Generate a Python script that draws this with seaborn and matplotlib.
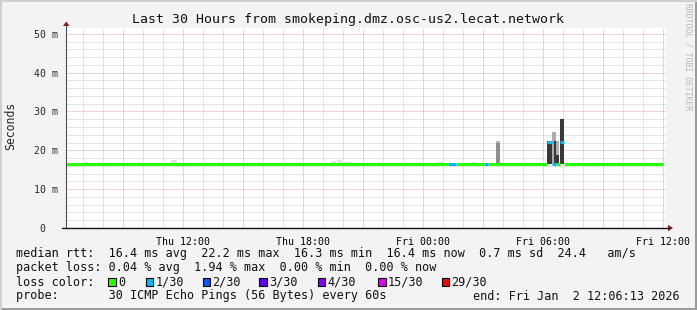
import numpy as np
import pandas as pd
import matplotlib
matplotlib.use("Agg")
import matplotlib.pyplot as plt
import seaborn as sns
from matplotlib.patches import Rectangle, Polygon
from matplotlib.lines import Line2D

# ---------------- data ----------------
title = "Last 30 Hours from smokeping.dmz.osc-us2.lecat.network"
# time axis: hours since Thu 00:00 (window Thu 06:06:13 .. Fri 12:06:13)
x_start = 6.1036
x_end = 36.1036
x_label_hours = [12, 18, 24, 30, 36]
x_label_text = ["Thu 12:00", "Thu 18:00", "Fri 00:00", "Fri 06:00", "Fri 12:00"]
y_tick_values = [0, 10, 20, 30, 40, 50]
y_tick_text = ["0  ", "10 m", "20 m", "30 m", "40 m", "50 m"]
y_max = 51.5

# median rtt (ms), step segments: start time, value, loss (pings lost of 30)
median_t = [6.10, 25.23, 25.64, 27.03, 27.23, 30.20, 30.42, 30.62, 30.82, 31.03, 36.00]
median_v = [16.4, 16.4, 16.4, 16.4, 16.4, 22.2, 16.4, 16.4, 22.2, 16.4]
median_loss = [0, 1, 0, 1, 0, 1, 1, 0, 1, 0]

# smoke (spread of pings): start, end, low ms, high ms, shade
smoke_t0 = [27.62, 27.62, 30.20, 30.42, 30.53, 30.62, 30.83]
smoke_t1 = [27.83, 27.83, 30.42, 30.62, 30.80, 30.78, 31.03]
smoke_lo = [16.4, 21.8, 16.4, 16.4, 16.4, 18.9, 16.4]
smoke_hi = [22.4, 22.4, 22.4, 24.8, 22.4, 22.3, 28.1]
smoke_shade = ["#8e8e8e", "#b8b8b8", "#383838", "#ababab", "#383838", "#b0b0b0", "#383838"]

# faint smoke just above the median line: start, end, top ms
faint_t0 = [7.00, 9.67, 10.17, 11.40, 12.20, 13.58, 14.25, 15.17, 15.58, 18.83, 19.40, 19.67, 20.00,
            21.67, 22.25, 22.67, 24.08, 24.67, 25.67, 26.42, 26.67, 31.67, 33.00, 34.00, 35.17]
faint_t1 = [7.25, 10.00, 10.42, 11.70, 12.80, 13.83, 14.67, 15.42, 15.83, 19.25, 19.62, 19.92, 20.42,
            22.00, 22.42, 22.83, 24.42, 25.00, 26.00, 26.67, 27.00, 31.83, 33.17, 34.42, 35.42]
faint_top = [17.1, 16.8, 16.8, 17.4, 16.8, 16.8, 16.8, 16.8, 16.8, 16.8, 17.3, 17.4, 17.1,
             16.8, 16.8, 16.8, 16.8, 17.0, 16.8, 17.0, 16.8, 16.8, 16.8, 16.8, 16.8]

loss_levels = [0, 1, 2, 3, 4, 15, 29]
loss_text = ["0", "1/30", "2/30", "3/30", "4/30", "15/30", "29/30"]
loss_colors = ["#26ff00", "#00b8ff", "#0059ff", "#5e00ff", "#7e00ff", "#dd00ff", "#ff0000"]

legend_rows = [
    "median rtt:  16.4 ms avg  22.2 ms max  16.3 ms min  16.4 ms now  0.7 ms sd  24.4   am/s",
    "packet loss: 0.04 % avg  1.94 % max  0.00 % min  0.00 % now",
    "loss color:",
    "probe:       30 ICMP Echo Pings (56 Bytes) every 60s",
]
end_text = "end: Fri Jan  2 12:06:13 2026"
y_label = "Seconds"
watermark = "RRDTOOL / TOBI OETIKER"

# ---------------- figure ----------------
W, H = 697, 310
sns.set_style("white")
plt.rcParams["font.family"] = ["DejaVu Sans Mono", "DejaVu Sans"]

fig = plt.figure(figsize=(W / 100, H / 100), dpi=100, facecolor="#f3f3f3")
ax = fig.add_axes([65.5 / W, 82 / H, 600 / W, 200 / H])
ax.set_facecolor("white")
ax.set_xlim(x_start, x_end)
ax.set_ylim(0, y_max)

# grids
major_x = np.arange(9, 37, 3)
minor_x = np.arange(7, 37, 1)
ax.set_xticks(major_x)
ax.set_xticks(minor_x, minor=True)
ax.set_xticklabels([""] * len(major_x))
ax.set_yticks(y_tick_values)
ax.set_yticks(np.arange(2, 52, 2), minor=True)
ax.set_yticklabels(y_tick_text)
ax.set_axisbelow(True)
grid_red = "#e6a4a4"
grid_gray = "#cdcdcd"
ax.grid(which="major", color=grid_red, linestyle=(0, (1, 1)), linewidth=0.72)
ax.grid(which="minor", color=grid_gray, linestyle=(0, (1, 1)), linewidth=0.72)
ax.tick_params(axis="x", which="major", length=1.6, color=grid_red, width=0.72, pad=2)
ax.tick_params(axis="x", which="minor", length=1.6, color=grid_gray, width=0.72)
ax.tick_params(axis="y", which="major", length=3, color="#555555", width=0.72, pad=2.2, labelsize=7.1)
ax.tick_params(axis="y", which="minor", length=0)
for s in ax.spines.values():
    s.set_visible(False)

# x labels (every 6 h)
for h, lab in zip(x_label_hours, x_label_text):
    ax.text(h, -0.045, lab, transform=ax.get_xaxis_transform(), ha="center", va="top",
            fontsize=7.1, color="black")

# faint smoke
ax.bar(faint_t0, np.array(faint_top) - 16.0, width=np.array(faint_t1) - np.array(faint_t0),
       bottom=16.0, align="edge", color="#e2e2e2", linewidth=0, zorder=2)
# smoke
ax.bar(smoke_t0, np.array(smoke_hi) - np.array(smoke_lo),
       width=np.array(smoke_t1) - np.array(smoke_t0), bottom=smoke_lo,
       align="edge", color=smoke_shade, linewidth=0, zorder=3)

# median line through seaborn
rows = []
for i, (v, l) in enumerate(zip(median_v, median_loss)):
    rows.append({"t": median_t[i], "v": v, "seg": i, "loss": l})
    rows.append({"t": median_t[i + 1], "v": v, "seg": i, "loss": l})
df = pd.DataFrame(rows)
pal = dict(zip(loss_levels, loss_colors))
sns.lineplot(data=df, x="t", y="v", units="seg", estimator=None, hue="loss",
             palette={k: pal[k] for k in sorted(df["loss"].unique())},
             linewidth=2.2, legend=False, ax=ax, zorder=4, solid_capstyle="butt")
ax.set_xlabel("")
ax.set_ylabel("")

# axes lines and arrows (pixel coords)
def px(x, y):
    return (x / W, 1 - y / H)

fig.add_artist(Line2D([px(66, 0)[0]] * 2, [px(0, 228)[1], px(0, 25)[1]], color="#4a4a4a", lw=0.8))
fig.add_artist(Line2D([px(62, 0)[0], px(669, 0)[0]], [px(0, 228)[1]] * 2, color="#111111", lw=1.0))
fig.add_artist(Polygon([px(63, 26), px(69.5, 26), px(66.25, 21.5)], closed=True, color="#8b1a1a", lw=0))
fig.add_artist(Polygon([px(668, 224.8), px(668, 231.2), px(673, 228)], closed=True, color="#8b1a1a", lw=0))

# titles / labels
fig.text(W / 2 / W, px(0, 19)[1], title, ha="center", va="center", fontsize=9.5, color="#111111")
fig.text(*px(11, 126), y_label, rotation=90, ha="center", va="center", fontsize=8.3)
fig.text(*px(688, 57), watermark, rotation=270, ha="center", va="center", fontsize=5.8,
         color="#b8b8b8")

# legend
row_y = [254, 268, 282, 296]
for txt, yy in zip(legend_rows, row_y):
    fig.text(*px(16, yy), txt, ha="left", va="center", fontsize=8.5, color="#111111")
box_x = [108.3, 145.7, 202.7, 259.3, 317.7, 378.3, 441.7]
for bx, c, lab in zip(box_x, loss_colors, loss_text):
    fig.add_artist(Rectangle(px(bx, 286), 7.6 / W, 7.6 / H, facecolor=c, edgecolor="black", lw=0.8))
    fig.text(*px(bx + 9.5, 282), lab, ha="left", va="center", fontsize=8.5, color="#111111")
fig.text(*px(680, 296), end_text, ha="right", va="center", fontsize=8.5, color="#111111")

# 3d frame
fig.add_artist(Rectangle((0, 0), 1, 2 / H, facecolor="#9a9a9a", lw=0))
fig.add_artist(Rectangle((1 - 2 / W, 0), 2 / W, 1, facecolor="#9a9a9a", lw=0))
fig.add_artist(Rectangle((0, 1 - 2 / H), 1, 2 / H, facecolor="#cfcfcf", lw=0))
fig.add_artist(Rectangle((0, 0), 2 / W, 1, facecolor="#cfcfcf", lw=0))

fig.savefig("out.png", dpi=100, facecolor=fig.get_facecolor())
